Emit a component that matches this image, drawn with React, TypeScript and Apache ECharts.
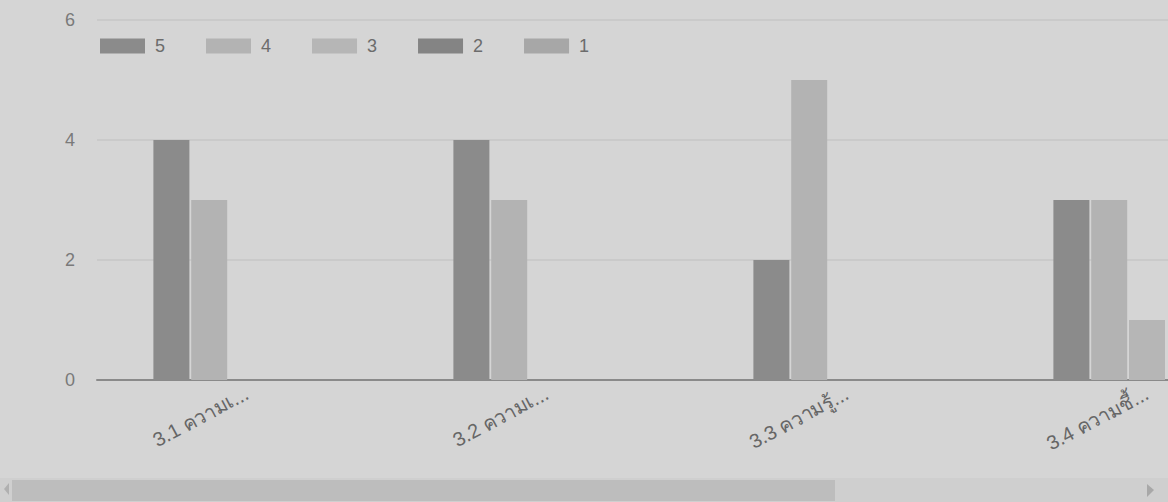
import React, { useEffect, useRef } from "react";
import * as echarts from "echarts";

const categories = ["3.1 ความเ...", "3.2 ความเ...", "3.3 ความรู้...", "3.4 ความชี้..."];
const seriesNames = ["5", "4", "3", "2", "1"];
const values5 = [4, 4, 2, 3];
const values4 = [3, 3, 5, 3];
const values3 = [0, 0, 0, 1];
const values2 = [0, 0, 0, 0];
const values1 = [0, 0, 0, 0];
const yTicks = [0, 2, 4, 6];

const colors = ["#8b8b8b", "#b3b3b3", "#b6b6b6", "#848484", "#a7a7a7"];
const FONT = "'Liberation Sans', Arial, 'Noto Sans', sans-serif";

export default function App() {
  const ref = useRef<HTMLDivElement>(null);
  useEffect(() => {
    if (!ref.current) return;
    const chart = echarts.init(ref.current, undefined, { renderer: "svg" });
    const allValues = [values5, values4, values3, values2, values1];
    chart.setOption({
      animation: false,
      backgroundColor: "#d5d5d5",
      color: colors,
      textStyle: { fontFamily: FONT },
      legend: {
        left: 95,
        top: 32,
        icon: "rect",
        itemWidth: 45,
        itemHeight: 15,
        itemGap: 41,
        textStyle: { fontSize: 18, color: "#6c6c6c", padding: [0, 0, 0, 5], fontFamily: FONT },
        data: seriesNames,
      },
      grid: { left: 97, top: 20, bottom: 122, right: 3, containLabel: false },
      xAxis: {
        type: "category",
        data: categories,
        axisLine: { lineStyle: { color: "#8a8a8a", width: 2 } },
        axisTick: { show: false },
        axisLabel: {
          rotate: 28,
          fontSize: 20,
          color: "#666666",
          margin: 12,
          interval: 0,
          fontFamily: FONT,
        },
      },
      yAxis: {
        type: "value",
        min: yTicks[0],
        max: yTicks[yTicks.length - 1],
        interval: 2,
        axisLine: { show: false },
        axisTick: { show: false },
        splitLine: { lineStyle: { color: "#c6c6c6", width: 1.5 } },
        axisLabel: { fontSize: 18, color: "#7a7a7a", margin: 22, fontFamily: FONT },
      },
      series: seriesNames.map((name, i) => ({
        name,
        type: "bar",
        data: allValues[i],
        barWidth: 36,
        barGap: "5%",
      })),
      graphic: [
        { type: "rect", shape: { x: 0, y: 478, width: 1300, height: 24 }, style: { fill: "#cfcfcf" }, silent: true },
        { type: "rect", shape: { x: 12, y: 480, width: 823, height: 21 }, style: { fill: "#bdbdbd" }, silent: true },
        { type: "polygon", shape: { points: [[9, 483], [9, 495], [4, 489]] }, style: { fill: "#b0b0b0" }, silent: true },
        { type: "polygon", shape: { points: [[1147, 484], [1147, 497], [1154, 490]] }, style: { fill: "#a8a8a8" }, silent: true },
      ],
    });
    return () => chart.dispose();
  }, []);
  return (
    <div style={{ position: "fixed", left: 0, top: 0, width: 1168, height: 502, overflow: "hidden" }}>
      <div ref={ref} style={{ width: 1300, height: 502 }} />
    </div>
  );
}
